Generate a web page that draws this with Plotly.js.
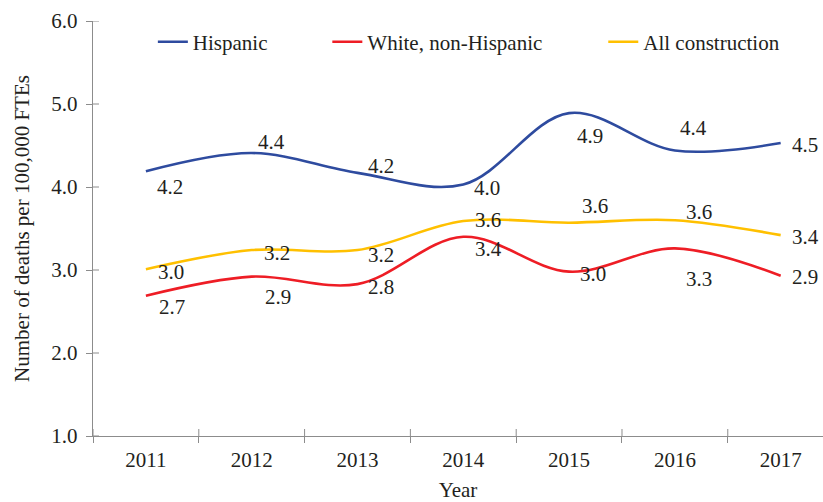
<!DOCTYPE html>
<html>
<head>
<meta charset="utf-8">
<script src="https://cdn.plot.ly/plotly-3.0.1.min.js"></script>
<style>html,body{margin:0;padding:0;overflow:hidden;background:#fff}</style>
</head>
<body>
<div id="chart" style="width:823px;height:502px"></div>
<script>
// ---- data ----
const years = ["2011", "2012", "2013", "2014", "2015", "2016", "2017"];
const hispanic = [4.19, 4.41, 4.17, 4.03, 4.89, 4.44, 4.53];
const whiteNonHispanic = [2.69, 2.92, 2.83, 3.40, 2.98, 3.26, 2.93];
const allConstruction = [3.01, 3.24, 3.24, 3.59, 3.57, 3.60, 3.42];
const seriesNames = ["Hispanic", "White, non-Hispanic", "All construction"];
const yTicks = [1, 2, 3, 4, 5, 6];

// ---- label offsets (pixels, dx right, dy down) ----
const hispLabelOffsets = [[24, 16], [20, -11], [24, -7], [24, 3], [21, 23], [19, -22], [24, 2]];
const whiteLabelOffsets = [[26, 11], [26, 20], [24, 3], [25, 12], [24, 2], [24, 31], [24, 1]];
const allLabelOffsets = [[25, 3], [25, 3], [24, 5], [25, -1], [26, -17], [24, -8], [25, 2]];

const colors = ["#2E4B9F", "#EE1D25", "#FFC000"];
const txtColor = "#231F20";
const axisColor = "#8C8C8C";
const font = "Liberation Serif";
const fs = 21;

const seriesData = [hispanic, whiteNonHispanic, allConstruction];
const offsets = [hispLabelOffsets, whiteLabelOffsets, allLabelOffsets];
const legendIds = ["legend", "legend2", "legend3"];

const traces = seriesData.map((vals, i) => ({
  type: "scatter",
  mode: "lines",
  x: years,
  y: vals,
  name: seriesNames[i],
  legend: legendIds[i],
  line: { color: colors[i], width: 2.6, shape: "spline", smoothing: 1 },
  hoverinfo: "skip"
}));

const annotations = [];
seriesData.forEach((vals, i) => {
  vals.forEach((v, j) => {
    annotations.push({
      x: j, y: v, xref: "x", yref: "y",
      text: v.toFixed(1), showarrow: false,
      xshift: offsets[i][j][0], yshift: -offsets[i][j][1],
      font: { family: font, size: fs, color: txtColor }
    });
  });
});

// inner halves of crossing tick marks
const plotW = 730, plotH = 415;
const shapes = [];
for (let k = 0; k < years.length; k++) {
  shapes.push({
    type: "line", xref: "x", yref: "paper",
    x0: k - 0.5, x1: k - 0.5, y0: 0, y1: 7 / plotH,
    line: { color: axisColor, width: 1 }
  });
}
yTicks.forEach(t => {
  shapes.push({
    type: "line", xref: "paper", yref: "y",
    x0: 0, x1: 6 / plotW, y0: t, y1: t,
    line: { color: axisColor, width: 1 }
  });
});

const legendBase = {
  orientation: "h", yanchor: "middle", y: 0.949, xanchor: "left",
  bgcolor: "rgba(0,0,0,0)", borderwidth: 0,
  font: { family: font, size: fs, color: txtColor },
  itemwidth: 30
};

const layout = {
  width: 823, height: 502,
  margin: { l: 93, r: 0, t: 21, b: 66 },
  paper_bgcolor: "#fff", plot_bgcolor: "#fff",
  font: { family: font, size: fs, color: txtColor },
  showlegend: true,
  legend: Object.assign({}, legendBase, { x: 0.082 }),
  legend2: Object.assign({}, legendBase, { x: 0.321 }),
  legend3: Object.assign({}, legendBase, { x: 0.699 }),
  xaxis: {
    type: "category", range: [-0.5, 6.4],
    tickson: "boundaries", ticks: "outside", ticklen: 6, tickcolor: axisColor, tickwidth: 1,
    showline: true, linecolor: axisColor, linewidth: 1.3,
    showgrid: false, zeroline: false,
    tickfont: { family: font, size: fs, color: txtColor },
    ticklabelstandoff: 4,
    title: { text: "Year", font: { family: font, size: fs, color: txtColor }, standoff: 21 }
  },
  yaxis: {
    range: [1, 6], tickvals: yTicks, tickformat: ".1f",
    ticks: "outside", ticklen: 6, tickcolor: axisColor, tickwidth: 1,
    showline: true, linecolor: axisColor, linewidth: 1.3,
    showgrid: false, zeroline: false,
    tickfont: { family: font, size: fs, color: txtColor },
    ticklabelstandoff: 4,
    title: { text: "Number of deaths per 100,000 FTEs", font: { family: font, size: fs, color: txtColor }, standoff: 16 }
  },
  annotations: annotations,
  shapes: shapes
};

Plotly.newPlot("chart", traces, layout, { staticPlot: true, displayModeBar: false });
</script>
</body>
</html>
